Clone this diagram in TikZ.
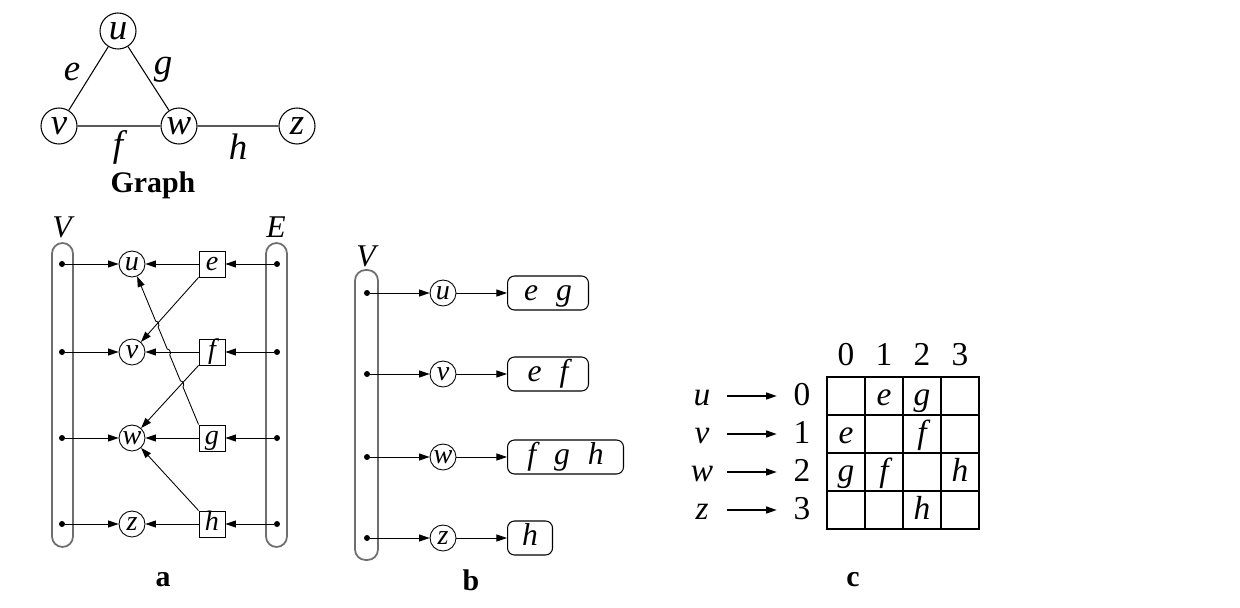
\documentclass[tikz,border=0pt]{standalone}
\usepackage{fontspec}
\setmainfont{Liberation Serif}
\usepackage{tikz}
\usetikzlibrary{arrows.meta, positioning, calc, intersections}
\definecolor{barline}{RGB}{110, 110, 110}

\begin{document}
\begin{tikzpicture}[x=0.02cm, y=-0.02cm, thin,
    gvert/.style={circle, draw, line width=0.6pt, minimum size=0.72cm, inner sep=0pt, font=\fontsize{21}{21}\selectfont\itshape},
    svert/.style={circle, draw, line width=0.5pt, minimum size=0.52cm, inner sep=0pt, text height=7pt, text depth=0pt, font=\fontsize{16}{16}\selectfont\itshape},
    sedge/.style={rectangle, draw, line width=0.5pt, minimum size=0.52cm, inner sep=0pt, text height=11pt, text depth=3.5pt, font=\fontsize{16}{16}\selectfont\itshape},
    lbox/.style={rectangle, rounded corners=4pt, draw, line width=0.6pt, minimum height=0.68cm, inner sep=0pt, text height=12pt, text depth=4pt, font=\fontsize{18}{18}\selectfont\itshape},
    pt/.style={circle, fill, minimum size=0.12cm, inner sep=0pt},
    bar/.style={draw=barline, line width=1pt, rounded corners=6pt},
    arr/.style={-{Triangle[length=6pt, width=4pt]}, line width=0.5pt},
    lbl/.style={font=\fontsize{21}{21}\selectfont\itshape},
    captxt/.style={font=\fontsize{17}{17}\selectfont\bfseries},
    tbl/.style={inner sep=0pt, text height=13pt, text depth=2pt, font=\fontsize{19}{19}\selectfont}
  ]
    \useasboundingbox (0,0) rectangle (1240,608);

    % 1. THE GRAPH
    \node[gvert] (u) at (118,31) {u};
    \node[gvert] (v) at (59,126) {v};
    \node[gvert] (w) at (179,126) {w};
    \node[gvert] (z) at (297,126) {z};
    \draw[line width=0.6pt] (u) -- (v) (u) -- (w) (v) -- (w) (w) -- (z);
    \node[lbl] (le) at (72,72) {e};
    \node[lbl] (lg) at (163,70) {g};
    \node[lbl] (lf) at (118,147) {f};
    \node[lbl] (lh) at (238,147) {h};
    \node[captxt] (gcap) at (153,185) {Graph};

    % 2. PANEL a: VERTEX AND EDGE LISTS
    \draw[bar] (52,243) rectangle (73,547);
    \draw[bar] (266,243) rectangle (287,547);
    \node[lbl, font=\fontsize{18}{18}\selectfont\itshape] (aV) at (62,227) {V};
    \node[lbl, font=\fontsize{18}{18}\selectfont\itshape] (aE) at (276,227) {E};
    \foreach \n/\e/\y in {u/e/264, v/f/352, w/g/438, z/h/524} {
        \node[pt] (lp\n) at (62,\y) {};
        \node[pt] (rp\e) at (277,\y) {};
        \node[svert] (a\n) at (132,\y) {\n};
        \node[sedge] (a\e) at (212,\y) {\e};
    }
    % g -> u jumps over three lines
    \path[name path=gu] (ag.north west) -- (au);
    \path[name path=ev] (ae.south west) -- (av);
    \path[name path=fv] (af) -- (av);
    \path[name path=fw] (af.south west) -- (aw);
    \path[name intersections={of=gu and ev, by=j1}];
    \path[name intersections={of=gu and fv, by=j2}];
    \path[name intersections={of=gu and fw, by=j3}];
    \draw[arr] (ag.north west) -- (au);
    \foreach \j in {j1,j2,j3} {
        \draw[white, line width=2.5pt] ($(\j)!0.06cm!(au)$) -- ($(\j)!0.06cm!(ag.north west)$);
    }
    \foreach \n/\e in {u/e, v/f, w/g, z/h} {
        \draw[arr] (lp\n) -- (a\n);
        \draw[arr] (rp\e) -- (a\e);
        \draw[arr] (a\e) -- (a\n);
    }
    \draw[arr] (ae.south west) -- (av);
    \draw[arr] (af.south west) -- (aw);
    \draw[arr] (ah.north west) -- (aw);
    \foreach \j in {j1,j2,j3} {
        \draw[line width=0.5pt] ($(\j)!0.06cm!(ag.north west)$) to[bend right=90] ($(\j)!0.06cm!(au)$);
    }
    \node[captxt] (acap) at (163,580) {a};

    % 3. PANEL b: ADJACENCY LISTS
    \draw[bar] (355,270) rectangle (378,560);
    \node[lbl, font=\fontsize{18}{18}\selectfont\itshape] (bV) at (366,256) {V};
    \foreach \n/\y/\bw/\txt in {u/293/1.62/{e\hspace{0.36cm}g}, v/374/1.62/{e\hspace{0.36cm}f}, w/457/2.32/{f\hspace{0.36cm}g\hspace{0.36cm}h}, z/538/0.9/{h}} {
        \node[pt] (bp\n) at (367,\y) {};
        \node[svert] (b\n) at (443,\y) {\n};
        \node[lbox, anchor=west, minimum width=\bw cm] (bl\n) at (507,\y) {\txt};
        \draw[arr] (bp\n) -- (b\n);
        \draw[arr] (b\n) -- (bl\n);
    }
    \node[captxt] (bcap) at (471,580) {b};

    % 4. PANEL c: ADJACENCY MATRIX
    \foreach \i in {0,...,3} {
        \node[tbl] (ch\i) at (846+38*\i,356) {\i};
    }
    \foreach \n/\i in {u/0, v/1, w/2, z/3} {
        \node[tbl, font=\fontsize{19}{19}\selectfont\itshape, minimum width=0.6cm] (cr\n) at (702,396+38*\i) {\n};
        \node[tbl, minimum width=0.6cm] (cn\i) at (802,396+38*\i) {\i};
        \draw[arr, line width=0.7pt, shorten <=0.2cm, shorten >=0.2cm] (cr\n) -- (cn\i);
    }
    \foreach \i in {1,2,3} {
        \draw[line width=0.6pt] (827+38*\i,377) -- (827+38*\i,529);
        \draw[line width=0.6pt] (827,377+38*\i) -- (979,377+38*\i);
    }
    \draw[line width=1pt] (827,377) rectangle (979,529);
    \foreach \r/\c/\t in {0/1/e, 0/2/g, 1/0/e, 1/2/f, 2/0/g, 2/1/f, 2/3/h, 3/2/h} {
        \node[tbl, font=\fontsize{19}{19}\selectfont\itshape] (cell\r\c) at (846+38*\c,396+38*\r) {\t};
    }
    \node[captxt] (ccap) at (853,580) {c};

\end{tikzpicture}
\end{document}
